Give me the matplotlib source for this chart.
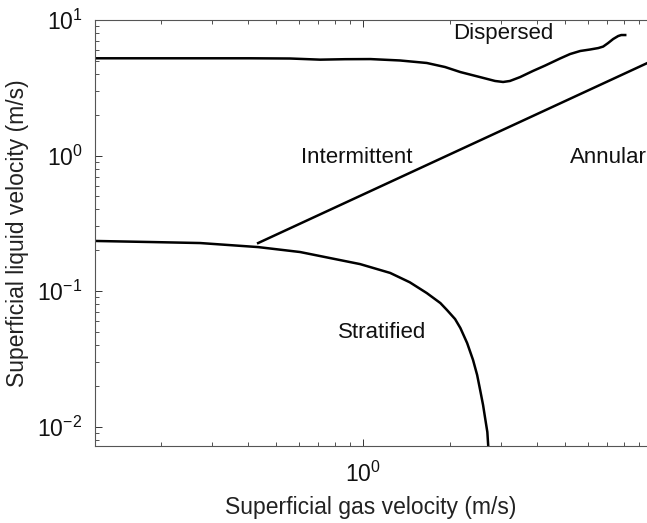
import numpy as np
import matplotlib
matplotlib.use("Agg")
import matplotlib.pyplot as plt

plt.rcParams['font.family'] = ['Liberation Sans', 'DejaVu Sans']
plt.rcParams['mathtext.default'] = 'regular'

# dispersed / intermittent boundary
disp_x = [0.12, 0.183, 0.273, 0.406, 0.559, 0.71, 0.867, 1.06, 1.34, 1.66, 1.92,
          2.17, 2.54, 2.86, 3.05, 3.22, 3.49, 3.87, 4.26, 4.8, 5.2, 5.64, 6.1,
          6.51, 6.77, 7.04, 7.33, 7.63, 7.82, 8.07]
disp_y = [5.22, 5.22, 5.22, 5.22, 5.2, 5.1, 5.14, 5.15, 5.03, 4.82, 4.5,
          4.13, 3.79, 3.55, 3.49, 3.55, 3.79, 4.21, 4.61, 5.2, 5.61, 5.91, 6.06,
          6.21, 6.37, 6.76, 7.24, 7.62, 7.75, 7.75]

# intermittent / annular boundary
ann_x = [0.433, 10.0]
ann_y = [0.226, 5.0]

# stratified boundary
strat_x = [0.12, 0.183, 0.273, 0.433, 0.605, 0.769, 0.976, 1.24, 1.45, 1.66, 1.85,
           1.95, 2.08, 2.17, 2.29, 2.40, 2.48, 2.54, 2.60, 2.64, 2.69, 2.71]
strat_y = [0.234, 0.23, 0.226, 0.211, 0.194, 0.175, 0.158, 0.136, 0.116, 0.0966, 0.0815,
           0.0724, 0.0621, 0.0533, 0.0413, 0.031, 0.024, 0.0186, 0.0144, 0.0117, 0.0091, 0.0071]

regions = ["Dispersed", "Intermittent", "Annular", "Stratified"]
region_xy = [(3.05, 8.0), (0.953, 0.975), (7.05, 0.975), (1.16, 0.0498)]

fig = plt.figure(figsize=(6.47, 5.23), dpi=100)
ax = fig.add_axes([0.1468, 0.1472, 0.8532, 0.8145])

ax.plot(disp_x, disp_y, color='k', lw=1.8)
ax.plot(ann_x, ann_y, color='k', lw=1.8)
ax.plot(strat_x, strat_y, color='k', lw=1.8)

for name, (tx, ty) in zip(regions, region_xy):
    ax.text(tx, ty, name, fontsize=16, ha='center', va='center', color='#111111')

ax.set_xscale('log')
ax.set_yscale('log')
ax.set_xlim(0.118, 9.6)
ax.set_ylim(0.00718, 10)

ax.set_xlabel('Superficial gas velocity (m/s)', fontsize=16.5, color='#222222', labelpad=7)
ax.set_ylabel('Superficial liquid velocity (m/s)', fontsize=16.5, color='#222222', labelpad=6)

ax.tick_params(which='both', direction='in', top=True, right=False, colors='#333333',
               labelsize=16.5)
ax.tick_params(axis='x', pad=11)
ax.tick_params(axis='y', pad=9)
ax.tick_params(which='major', length=5, width=0.7)
ax.tick_params(which='minor', length=3, width=0.6)
for lab in ax.get_xticklabels() + ax.get_yticklabels():
    lab.set_color('#111111')
ax.spines['right'].set_visible(False)
for s in ['left', 'top', 'bottom']:
    ax.spines[s].set_color('#555555')
    ax.spines[s].set_linewidth(0.8)

fig.savefig('out.png', dpi=100)
